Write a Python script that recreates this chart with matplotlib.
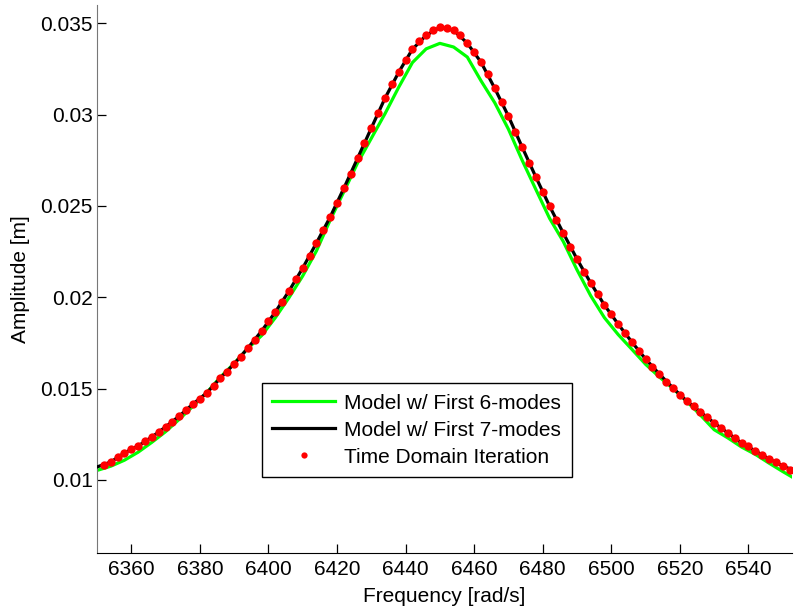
import matplotlib
matplotlib.use("Agg")
import matplotlib.pyplot as plt

plt.rcParams['font.family'] = ['Liberation Sans', 'DejaVu Sans']

# Time domain iteration (red dots), every 2 rad/s
freq_td = list(range(6352, 6553, 2))
amp_td = [
    0.01082, 0.01098, 0.01126, 0.01148, 0.01170, 0.01186, 0.01213, 0.01235,
    0.01263, 0.01290, 0.01317, 0.01350, 0.01383, 0.01416, 0.01443, 0.01476,
    0.01514, 0.01558, 0.01591, 0.01635, 0.01673, 0.01722, 0.01766, 0.01815,
    0.01870, 0.01919, 0.01974, 0.02034, 0.02100, 0.02160, 0.02225, 0.02297,
    0.02368, 0.02439, 0.02515, 0.02597, 0.02674, 0.02761, 0.02844, 0.02926,
    0.03008, 0.03090, 0.03166, 0.03232, 0.03298, 0.03358, 0.03402, 0.03434,
    0.03462, 0.03478, 0.03473, 0.03462, 0.03434, 0.03391, 0.03341, 0.03287,
    0.03221, 0.03144, 0.03068, 0.02991, 0.02904, 0.02822, 0.02734, 0.02658,
    0.02575, 0.02499, 0.02422, 0.02351, 0.02275, 0.02209, 0.02138, 0.02078,
    0.02018, 0.01957, 0.01908, 0.01853, 0.01804, 0.01755, 0.01706, 0.01662,
    0.01618, 0.01580, 0.01536, 0.01503, 0.01465, 0.01432, 0.01405, 0.01372,
    0.01345, 0.01312, 0.01284, 0.01257, 0.01230, 0.01202, 0.01186, 0.01159,
    0.01137, 0.01115, 0.01098, 0.01077, 0.01055,
]

# Model curves, every 4 rad/s
freq_model = list(range(6350, 6555, 4))
amp_7modes = [
    0.01071, 0.01098, 0.01148, 0.01186, 0.01235, 0.01290, 0.01350, 0.01416,
    0.01476, 0.01558, 0.01635, 0.01722, 0.01815, 0.01919, 0.02034, 0.02160,
    0.02297, 0.02439, 0.02597, 0.02761, 0.02926, 0.03090, 0.03232, 0.03358,
    0.03434, 0.03478, 0.03462, 0.03391, 0.03287, 0.03144, 0.02991, 0.02822,
    0.02658, 0.02499, 0.02351, 0.02209, 0.02078, 0.01957, 0.01853, 0.01755,
    0.01662, 0.01580, 0.01503, 0.01432, 0.01372, 0.01312, 0.01257, 0.01202,
    0.01159, 0.01115, 0.01077, 0.01045,
]
amp_6modes = [
    0.01052, 0.01075, 0.01108, 0.01152, 0.01206, 0.01264, 0.01332, 0.01404,
    0.01478, 0.01563, 0.01638, 0.01720, 0.01790, 0.01888, 0.01998, 0.02117,
    0.02254, 0.02422, 0.02578, 0.02735, 0.02870, 0.03005, 0.03150, 0.03285,
    0.03360, 0.03390, 0.03370, 0.03315, 0.03185, 0.03065, 0.02920, 0.02750,
    0.02590, 0.02432, 0.02305, 0.02150, 0.02008, 0.01888, 0.01796, 0.01715,
    0.01633, 0.01564, 0.01500, 0.01430, 0.01355, 0.01275, 0.01230, 0.01180,
    0.01140, 0.01092, 0.01046, 0.01002,
]

xticks = [6360, 6380, 6400, 6420, 6440, 6460, 6480, 6500, 6520, 6540]
yticks = [0.01, 0.015, 0.02, 0.025, 0.03, 0.035]
ytick_labels = ['0.01', '0.015', '0.02', '0.025', '0.03', '0.035']

fs = 15
fig = plt.figure(figsize=(7.95, 6.08), dpi=100)
ax = fig.add_axes([97 / 795, 55 / 608, 695 / 795, 548 / 608])

ax.plot(freq_model, amp_6modes, color='#00ff00', lw=2.3, label='Model w/ First 6-modes', zorder=2)
ax.plot(freq_model, amp_7modes, color='black', lw=2.3, label='Model w/ First 7-modes', zorder=3)
ax.plot(freq_td, amp_td, ls='none', marker='o', ms=6.0, color='#ff0000', mec='none',
        label='Time Domain Iteration', zorder=4)

ax.set_xlim(6350, 6552.7)
ax.set_ylim(0.006, 0.036)
ax.set_xticks(xticks)
ax.set_xticklabels([str(t) for t in xticks])
ax.set_yticks(yticks)
ax.set_yticklabels(ytick_labels)

for side in ['top', 'right']:
    ax.spines[side].set_visible(False)
ax.spines['left'].set_color('#777777')
ax.spines['bottom'].set_color('black')
ax.tick_params(direction='in', length=6.5, width=0.9, labelsize=fs, pad=5)
ax.tick_params(axis='y', pad=3)

ax.set_xlabel('Frequency [rad/s]', fontsize=fs)
ax.set_ylabel('Amplitude [m]', fontsize=fs)
ax.xaxis.set_label_coords(0.5, -0.062)
ax.yaxis.set_label_coords(-0.096, 0.5)

leg = ax.legend(loc='lower left', bbox_to_anchor=(0.2374, 0.1387), borderaxespad=0,
                fontsize=fs, numpoints=1, handlelength=3.0, handletextpad=0.45,
                labelspacing=0.38, borderpad=0.5, markerscale=0.75,
                fancybox=False, framealpha=1)
leg.get_frame().set_edgecolor('black')
leg.get_frame().set_linewidth(1.0)

fig.savefig('out.png', dpi=100)
